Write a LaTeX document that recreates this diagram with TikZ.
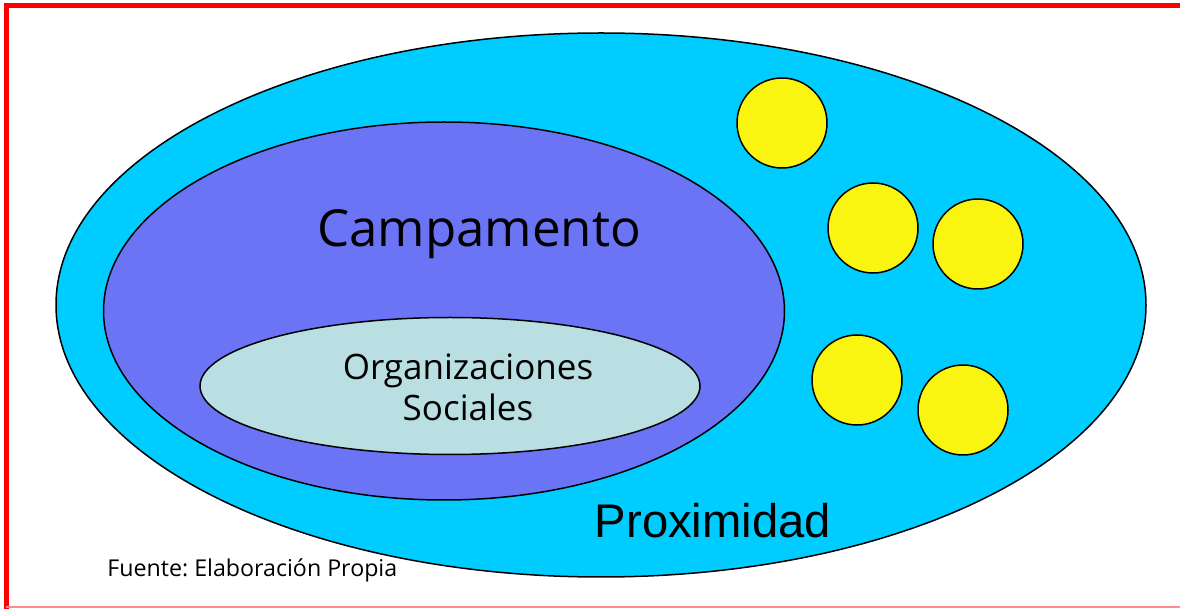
\documentclass[tikz,border=0pt]{standalone}
\usepackage{fontspec}
\setmainfont{Open Sans}
\newfontfamily\arialfont{Liberation Sans}
\usetikzlibrary{shapes.geometric}
\frenchspacing

\definecolor{celeste}{RGB}{0,204,255}
\definecolor{lila}{RGB}{107,116,245}
\definecolor{aguagris}{RGB}{185,223,227}
\definecolor{amarillo}{RGB}{250,245,16}

\begin{document}
\begin{tikzpicture}[x=0.5pt,y=-0.5pt,
	zona/.style={ellipse,draw,line width=0.75pt,inner sep=0pt},
	punto/.style={circle,draw,fill=amarillo,line width=0.75pt,minimum size=45pt,inner sep=0pt}]
	\useasboundingbox (0,0) rectangle (1180,609);
	\draw[red,line width=2.5pt] (6,609) -- (6,6) -- (1180,6);
	\draw[red!45,line width=1pt] (6,607.5) -- (1180,607.5);
	
	\node[zona,fill=celeste,minimum width=545pt,minimum height=272pt] (proximidad) at (601,305) {};
	\node[zona,fill=lila,minimum width=340.5pt,minimum height=189pt] (campamento) at (444,311) {};
	\node[zona,fill=aguagris,minimum width=250pt,minimum height=68.5pt] (organizaciones) at (450,386) {};
	
	\node[punto] (p1) at (782,123) {};
	\node[punto] (p2) at (873,228) {};
	\node[punto] (p3) at (978,244) {};
	\node[punto] (p4) at (857,380) {};
	\node[punto] (p5) at (963,410) {};
	
	\node[anchor=base,font=\fontsize{25.5}{30}\selectfont] (t_campamento) at (479,247) {Campamento};
	\node[align=center,inner sep=0pt,font=\fontsize{17.5}{20.5}\selectfont] (t_organizaciones) at (468,387) {Organizaciones\\Sociales};
	\node[anchor=base,inner sep=0pt,font=\arialfont\fontsize{23.6}{28}\selectfont] (t_proximidad) at (713,538) {Proximidad};
	\node[anchor=base west,inner sep=0pt,font=\fontsize{11.6}{14}\selectfont] (fuente) at (107,577) {Fuente: Elaboración Propia};
\end{tikzpicture}
\end{document}
